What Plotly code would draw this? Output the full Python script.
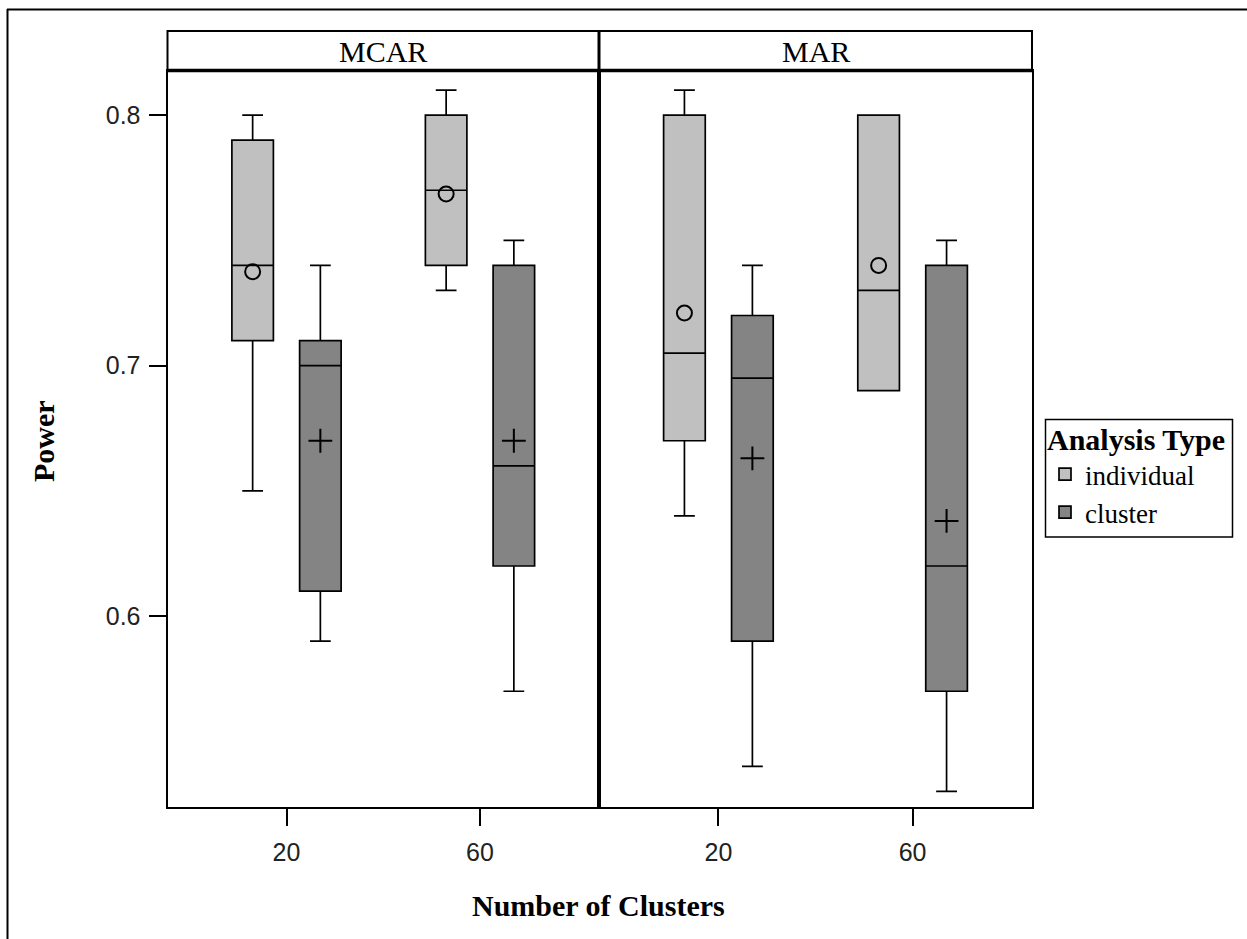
import plotly.graph_objects as go

W, H = 1247, 939

panels = ["MCAR", "MAR"]
cluster_labels = ["20", "60"]
analysis_types = ["individual", "cluster"]

# order within each panel: Number of Clusters 20, 60
individual_min = {"MCAR": [0.65, 0.73], "MAR": [0.64, 0.69]}
individual_q1 = {"MCAR": [0.71, 0.74], "MAR": [0.67, 0.69]}
individual_median = {"MCAR": [0.74, 0.77], "MAR": [0.705, 0.73]}
individual_q3 = {"MCAR": [0.79, 0.80], "MAR": [0.80, 0.80]}
individual_max = {"MCAR": [0.80, 0.81], "MAR": [0.81, 0.80]}
individual_mean = {"MCAR": [0.7375, 0.7685], "MAR": [0.721, 0.74]}

cluster_min = {"MCAR": [0.59, 0.57], "MAR": [0.54, 0.53]}
cluster_q1 = {"MCAR": [0.61, 0.62], "MAR": [0.59, 0.57]}
cluster_median = {"MCAR": [0.70, 0.66], "MAR": [0.695, 0.62]}
cluster_q3 = {"MCAR": [0.71, 0.74], "MAR": [0.72, 0.74]}
cluster_max = {"MCAR": [0.74, 0.75], "MAR": [0.74, 0.75]}
cluster_mean = {"MCAR": [0.67, 0.67], "MAR": [0.663, 0.638]}

y_ticks = [0.6, 0.7, 0.8]
y_ticktext = ["0.6", "0.7", "0.8"]

stats = {
    "individual": (individual_min, individual_q1, individual_median,
                   individual_q3, individual_max, individual_mean),
    "cluster": (cluster_min, cluster_q1, cluster_median,
                cluster_q3, cluster_max, cluster_mean),
}
fills = {"individual": "#C0C0C0", "cluster": "#848484"}
offsets = {"individual": -0.175, "cluster": 0.175}
mean_symbol = {"individual": "circle-open", "cluster": "cross-thin-open"}
mean_size = {"individual": 15, "cluster": 17}
BOX_W = 0.2145

SERIF = "Liberation Serif, Times New Roman, serif"
SANS = "Liberation Sans, Arial, sans-serif"

fig = go.Figure()
for pi, panel in enumerate(panels):
    xa = "x" if pi == 0 else "x2"
    ya = "y" if pi == 0 else "y2"
    for t in analysis_types:
        mn, q1, med, q3, mx, mean = stats[t]
        pos = [i + offsets[t] for i in range(len(cluster_labels))]
        fig.add_trace(go.Box(
            x=pos, q1=q1[panel], median=med[panel], q3=q3[panel],
            lowerfence=mn[panel], upperfence=mx[panel],
            width=BOX_W, whiskerwidth=0.5,
            fillcolor=fills[t], line=dict(color="black", width=1.7),
            name=t, legendgroup=t, showlegend=(pi == 0),
            boxpoints=False, hoverinfo="skip",
            xaxis=xa, yaxis=ya,
        ))
        fig.add_trace(go.Scatter(
            x=pos, y=mean[panel], mode="markers",
            marker=dict(symbol=mean_symbol[t], size=mean_size[t],
                        color="black", line=dict(color="black", width=2)),
            showlegend=False, hoverinfo="skip", xaxis=xa, yaxis=ya,
        ))

px = lambda v: v / W
py = lambda v: 1 - v / H

x_left, x_mid, x_right = 167.5, 599, 1032
y_top, y_bot = 71, 807
yr = [0.5238, 0.8176]
xr = [-0.615, 1.615]

axis_common = dict(
    range=xr, tickmode="array", tickvals=[0, 1], ticktext=cluster_labels,
    ticks="outside", ticklen=17, tickwidth=1.5, tickcolor="black",
    ticklabelstandoff=5,
    showline=True, linecolor="black", linewidth=2, mirror=True,
    showgrid=False, zeroline=False,
    tickfont=dict(family=SANS, size=25, color="#222"),
)
fig.update_layout(
    xaxis=dict(domain=[px(x_left), px(x_mid)], anchor="y", **axis_common),
    xaxis2=dict(domain=[px(x_mid), px(x_right)], anchor="y2", **axis_common),
    yaxis=dict(domain=[py(y_bot), py(y_top)], range=yr, anchor="x",
               tickmode="array", tickvals=y_ticks, ticktext=y_ticktext,
               ticks="outside", ticklen=17, tickwidth=1.5, tickcolor="black",
               ticklabelstandoff=3,
               showline=True, linecolor="black", linewidth=2, mirror=True,
               showgrid=False, zeroline=False,
               tickfont=dict(family=SANS, size=25, color="#222")),
    yaxis2=dict(domain=[py(y_bot), py(y_top)], range=yr, anchor="x2",
                matches="y", showticklabels=False, ticks="",
                showline=True, linecolor="black", linewidth=2, mirror=True,
                showgrid=False, zeroline=False),
    width=W, height=H, autosize=False,
    margin=dict(l=0, r=0, t=0, b=0),
    paper_bgcolor="white", plot_bgcolor="white",
    showlegend=True,
    legend=dict(
        x=px(1045), y=py(411), xanchor="left", yanchor="top",
        borderwidth=0, bgcolor="rgba(0,0,0,0)",
        font=dict(family=SERIF, size=27, color="black"),
        title=dict(text="<b>Analysis Type</b>",
                   font=dict(family=SERIF, size=30, color="black")),
        tracegroupgap=0,
    ),
)

shapes = []
# panel header strips
for (a, b) in [(x_left, x_mid), (x_mid, x_right)]:
    shapes.append(dict(type="rect", xref="paper", yref="paper",
                       x0=px(a), x1=px(b), y0=py(71), y1=py(31),
                       line=dict(color="black", width=2), fillcolor="white"))
shapes.append(dict(type="line", xref="paper", yref="paper",
                   x0=px(x_left), x1=px(x_right), y0=py(70.5), y1=py(70.5),
                   line=dict(color="black", width=3.5)))
shapes.append(dict(type="line", xref="paper", yref="paper",
                   x0=px(x_mid), x1=px(x_mid), y0=py(y_bot), y1=py(31),
                   line=dict(color="black", width=3)))
# legend frame
shapes.append(dict(type="rect", xref="paper", yref="paper",
                   x0=px(1045.5), x1=px(1232.5), y0=py(537), y1=py(419.5),
                   line=dict(color="black", width=1.5), fillcolor="rgba(0,0,0,0)"))
# outer graph border (top and left visible)
shapes.append(dict(type="line", xref="paper", yref="paper",
                   x0=px(7), x1=1.0, y0=py(9.5), y1=py(9.5),
                   line=dict(color="black", width=2)))
shapes.append(dict(type="line", xref="paper", yref="paper",
                   x0=px(7.5), x1=px(7.5), y0=0, y1=py(9),
                   line=dict(color="black", width=2)))
fig.update_layout(shapes=shapes)

ann = []
for (a, b), name in zip([(x_left, x_mid), (x_mid, x_right)], panels):
    ann.append(dict(text=name, xref="paper", yref="paper",
                    x=px((a + b) / 2), y=py(51), xanchor="center", yanchor="middle",
                    showarrow=False, font=dict(family=SERIF, size=30, color="black")))
ann.append(dict(text="<b>Number of Clusters</b>", xref="paper", yref="paper",
                x=px(598), y=py(905), xanchor="center", yanchor="middle",
                showarrow=False, font=dict(family=SERIF, size=30, color="black")))
ann.append(dict(text="<b>Power</b>", xref="paper", yref="paper",
                x=px(43), y=py(441), xanchor="center", yanchor="middle",
                textangle=-90, showarrow=False,
                font=dict(family=SERIF, size=30, color="black")))
fig.update_layout(annotations=ann)

fig.write_html("out.html")
